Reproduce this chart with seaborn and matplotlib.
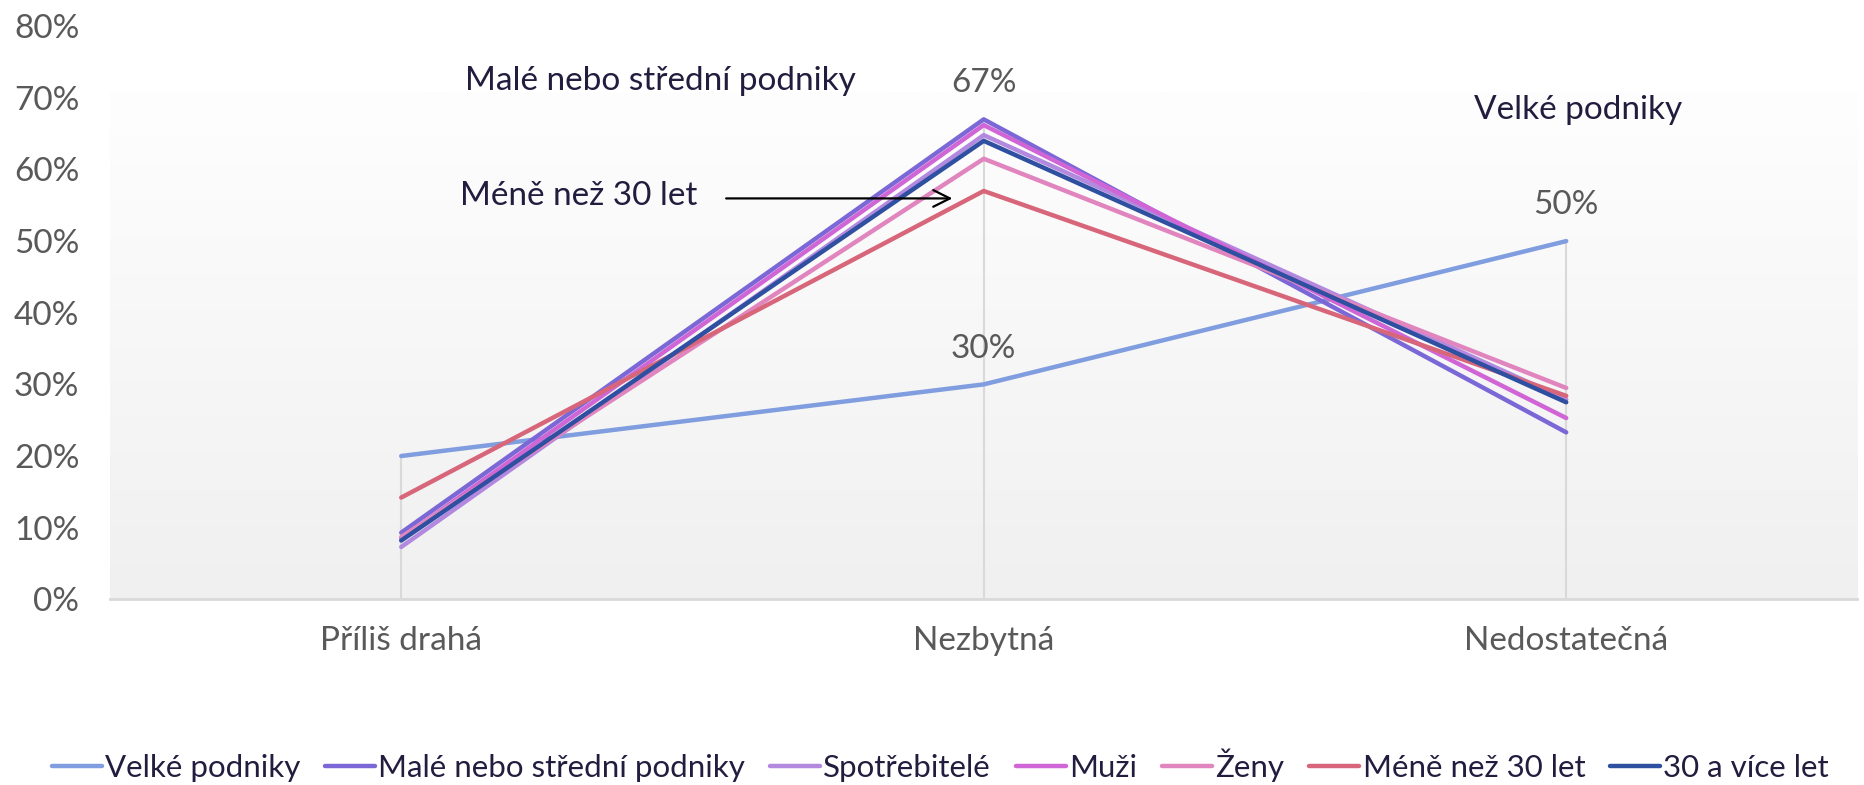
import numpy as np
import pandas as pd
import matplotlib
matplotlib.use("Agg")
import matplotlib.pyplot as plt
import seaborn as sns
from matplotlib.colors import LinearSegmentedColormap

categories = ["Příliš drahá", "Nezbytná", "Nedostatečná"]
series_names = ["Velké podniky", "Malé nebo střední podniky", "Spotřebitelé",
                "Muži", "Ženy", "Méně než 30 let", "30 a více let"]
velke = [0.20, 0.30, 0.50]
male = [0.093, 0.670, 0.233]
spotrebitele = [0.073, 0.648, 0.279]
muzi = [0.085, 0.662, 0.253]
zeny = [0.087, 0.615, 0.295]
mene30 = [0.142, 0.570, 0.284]
nad30 = [0.082, 0.640, 0.275]
colors = ["#7f9ddf", "#7b68d6", "#b389e0", "#d066d6", "#e085be", "#d8667a", "#2f4fa0"]
yticks = [0, 0.1, 0.2, 0.3, 0.4, 0.5, 0.6, 0.7, 0.8]

values = [velke, male, spotrebitele, muzi, zeny, mene30, nad30]
rows = []
for name, vals in zip(series_names, values):
    for i, (c, v) in enumerate(zip(categories, vals)):
        rows.append({"kategorie": c, "pos": i, "hodnota": v, "serie": name})
df = pd.DataFrame(rows)

sns.set_theme(style="white")
plt.rcParams["font.family"] = ["Lato", "DejaVu Sans"]

FS = 24
fig = plt.figure(figsize=(18.64, 7.85), dpi=100)
ax = fig.add_axes([0.0590, 0.2366, 0.9375, 0.730])

# gradient plot-area background
grad = np.linspace(0, 1, 256).reshape(-1, 1)
cmap = LinearSegmentedColormap.from_list("g", ["#f0f0f0", "#fefefe"])
ax.imshow(grad, extent=[-0.5, 2.5, 0, 0.707], origin="lower", aspect="auto",
          cmap=cmap, zorder=0)

# drop lines
for i in range(len(categories)):
    mx = max(v[i] for v in values)
    ax.vlines(i, 0, mx, color="#d9d9d9", lw=1.5, zorder=1)

sns.lineplot(data=df, x="pos", y="hodnota", hue="serie", hue_order=series_names,
             palette=colors, linewidth=3.2, ax=ax, legend=True, zorder=3,
             sort=False, estimator=None)

ax.set_xlim(-0.5, 2.5)
ax.set_ylim(0, 0.8)
ax.set_yticks(yticks)
ax.set_yticklabels([f"{int(round(t*100))}%" for t in yticks], color="#595959", fontsize=FS)
ax.set_xticks(range(len(categories)))
ax.set_xticklabels(categories, color="#595959", fontsize=FS)
ax.tick_params(axis="y", length=0, pad=22)
ax.tick_params(axis="x", length=0, pad=19)
ax.set_xlabel("")
ax.set_ylabel("")
for s in ["top", "right", "left"]:
    ax.spines[s].set_visible(False)
ax.spines["bottom"].set_color("#d9d9d9")
ax.spines["bottom"].set_linewidth(2)
ax.grid(False)

# data labels
ax.text(1, 0.721, "67%", ha="center", va="center", color="#595959", fontsize=FS)
ax.text(2, 0.551, "50%", ha="center", va="center", color="#595959", fontsize=FS)
ax.text(1, 0.350, "30%", ha="center", va="center", color="#595959", fontsize=FS)

navy = "#221d3f"
ax.text(0.445, 0.724, "Malé nebo střední podniky", ha="center", va="center", color=navy, fontsize=FS)
ax.text(2.021, 0.6826, "Velké podniky", ha="center", va="center", color=navy, fontsize=FS)
ax.text(0.305, 0.563, "Méně než 30 let", ha="center", va="center", color=navy, fontsize=FS)
ax.annotate("", xy=(0.951, 0.5596), xytext=(0.553, 0.5596),
            arrowprops=dict(arrowstyle="->", color="black", lw=1.6, mutation_scale=30))

ax.get_legend().remove()
handles, labels = ax.get_legend_handles_labels()
fig.legend(handles, labels, loc="center", bbox_to_anchor=(0.5045, 0.025), ncol=7,
           frameon=False, fontsize=22.5, handlelength=1.6, handletextpad=0.1,
           columnspacing=0.8, labelcolor=navy)

fig.savefig("out.png", dpi=100)
